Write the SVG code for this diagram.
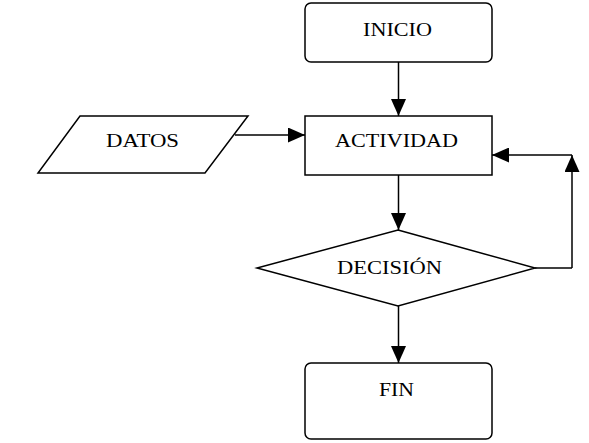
<svg xmlns="http://www.w3.org/2000/svg" width="589" height="443" viewBox="0 0 589 443">
<style>
.shape{fill:#fff;stroke:#000;stroke-width:1.5}
.lbl{font-family:"Liberation Serif","Times New Roman",serif;font-size:19px;fill:#000}
.edge{fill:none;stroke:#000;stroke-width:1.5}
</style>
<defs>
<marker id="arr" markerUnits="userSpaceOnUse" markerWidth="17" markerHeight="15" refX="17" refY="7.5" orient="auto">
<path d="M0,0 L17,7.5 L0,15 Z" fill="#000"/>
</marker>
</defs>
<rect width="589" height="443" fill="#fff"/>
<g id="inicio">
<rect class="shape" x="305" y="3" width="187" height="59" rx="6"/>
<text class="lbl" x="363" y="35.5" textLength="69" lengthAdjust="spacingAndGlyphs">INICIO</text>
</g>
<g id="datos">
<polygon class="shape" points="80,116 248,116 205,173 38,173"/>
<text class="lbl" x="106" y="146.5" textLength="73" lengthAdjust="spacingAndGlyphs">DATOS</text>
</g>
<g id="actividad">
<rect class="shape" x="305" y="116" width="187" height="59"/>
<text class="lbl" x="335" y="147" textLength="123" lengthAdjust="spacingAndGlyphs">ACTIVIDAD</text>
</g>
<g id="decision">
<polygon class="shape" points="398,230 535,268 398,306 257,268"/>
<text class="lbl" x="337" y="274" textLength="105" lengthAdjust="spacingAndGlyphs">DECISIÓN</text>
</g>
<g id="fin">
<rect class="shape" x="305" y="363" width="187" height="76" rx="6"/>
<text class="lbl" x="379" y="396" textLength="35" lengthAdjust="spacingAndGlyphs">FIN</text>
</g>
<g id="connectors">
<line class="edge" x1="398.5" y1="62" x2="398.5" y2="116" marker-end="url(#arr)"/>
<line class="edge" x1="235" y1="135" x2="305" y2="135" marker-end="url(#arr)"/>
<line class="edge" x1="398.5" y1="175" x2="398.5" y2="230" marker-end="url(#arr)"/>
<line class="edge" x1="398.5" y1="306" x2="398.5" y2="363" marker-end="url(#arr)"/>
<line class="edge" x1="535" y1="268" x2="572" y2="268"/>
<line class="edge" x1="572" y1="268" x2="572" y2="155" marker-end="url(#arr)"/>
<line class="edge" x1="572" y1="155" x2="492" y2="155" marker-end="url(#arr)"/>
</g>
</svg>
